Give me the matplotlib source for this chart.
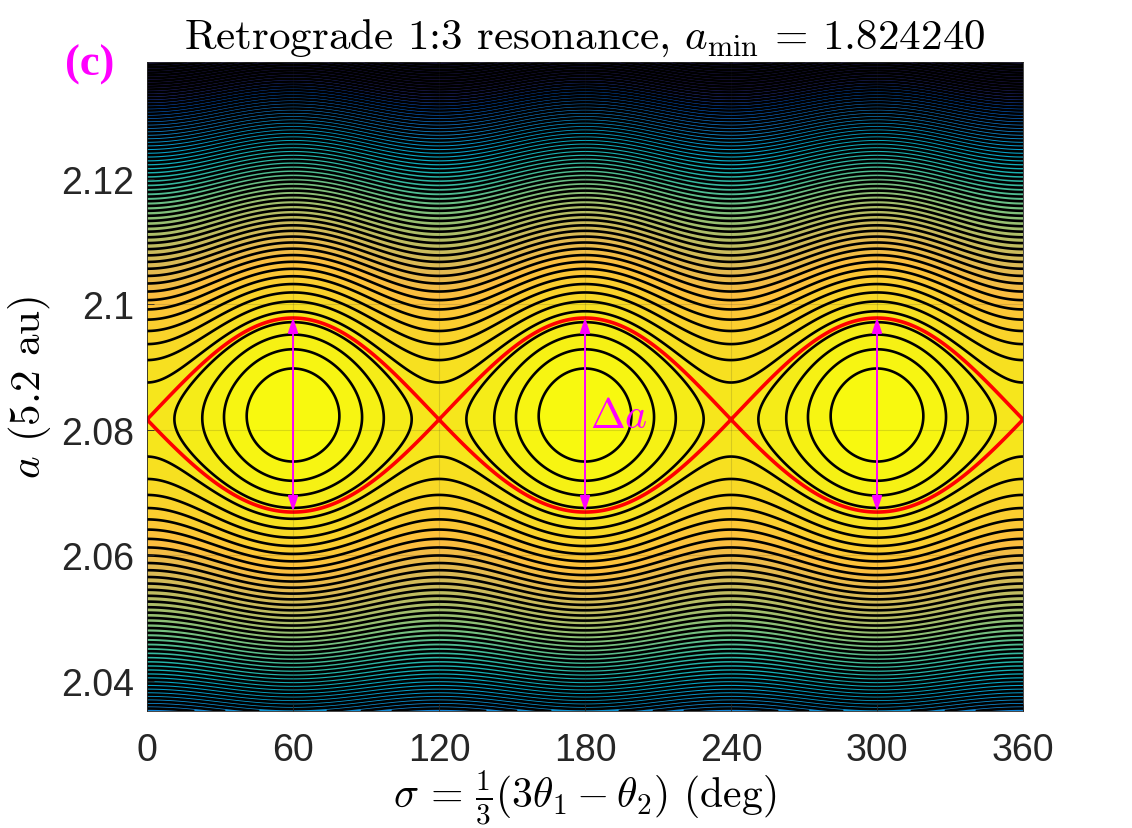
import numpy as np
import matplotlib
matplotlib.use("Agg")
import matplotlib.pyplot as plt
from matplotlib.colors import LinearSegmentedColormap

# values (a in units of 5.2 au)
a_res = 2.0820        # level of the island centres
half_width = 0.0155   # separatrix half width at island centre
asym = 6.0            # small up/down shift between islands and X points
stiff = 25.0          # contours crowd faster far from the resonance
level_step = 0.458    # contour spacing, in units of the resonance amplitude
dark_dist = 0.054     # distance from a_res where the colours reach dark blue

sig_lim = [0, 360]
a_lim = [2.0352, 2.1386]
x_ticks = [0, 60, 120, 180, 240, 300, 360]
y_ticks = [2.04, 2.06, 2.08, 2.1, 2.12]
y_ticklabels = ["2.04", "2.06", "2.08", "2.1", "2.12"]

arrow_sig = [60, 180, 300]
arrow_top = [2.0979, 2.0979, 2.0979]
arrow_bot = [2.0670, 2.0670, 2.0670]
label_sig = 182
label_a = 2.0822

# parula (every 4th colour of the 64 colour table)
parula_rgb = [
    (0.2081, 0.1663, 0.5292), (0.1959, 0.2645, 0.7279), (0.0117, 0.3875, 0.8820),
    (0.0629, 0.4737, 0.8554), (0.0749, 0.5375, 0.8263), (0.0265, 0.6137, 0.8135),
    (0.0267, 0.6642, 0.7607), (0.1133, 0.7015, 0.6859), (0.2586, 0.7317, 0.5954),
    (0.4420, 0.7481, 0.5033), (0.6099, 0.7473, 0.4337), (0.7525, 0.7384, 0.3768),
    (0.8825, 0.7274, 0.3217), (0.9939, 0.7455, 0.2404), (0.9788, 0.8271, 0.1633),
    (0.9598, 0.9218, 0.0948), (0.9763, 0.9831, 0.0538)]
parula = LinearSegmentedColormap.from_list("parula", parula_rgb, N=256)

plt.rcParams["font.family"] = ["Liberation Sans", "DejaVu Sans"]
plt.rcParams["mathtext.fontset"] = "cm"

S, A = np.meshgrid(np.linspace(sig_lim[0], sig_lim[1], 721),
                   np.linspace(a_lim[0], a_lim[1], 900))
B = half_width ** 2 / 2
u = A - a_res
H = -u ** 2 * (1 + stiff * u ** 2) - B * np.cos(np.radians(3 * S)) * (1 + asym * u)
H_max = H.max()
H_min = H.min()
H_sep = -B + (B * asym) ** 2 / 4
step = level_step * B
levels = H_max - step * np.arange(1, 600)
levels = levels[levels > H_min][::-1]
c_min = -dark_dist ** 2 * (1 + stiff * dark_dist ** 2)

fig = plt.figure(figsize=(11.32, 8.29), dpi=100)
ax = fig.add_axes([0.1299, 0.1411, 0.7738, 0.7829])

ax.contourf(S, A, H, levels=np.r_[H_min, levels, H_max], cmap=parula,
            vmin=c_min, vmax=H_max)
ax.contour(S, A, H, levels=levels, colors="k", linewidths=1.9,
           linestyles="solid")
ax.contour(S, A, H, levels=[H_sep], colors="r", linewidths=2.6,
           linestyles="solid")

for s, t, b in zip(arrow_sig, arrow_top, arrow_bot):
    ax.annotate("", xy=(s, t), xytext=(s, b),
                arrowprops=dict(arrowstyle="<|-|>,head_length=0.9,head_width=0.3",
                                color=(1, 0, 1), lw=1.4, shrinkA=0, shrinkB=0))
ax.text(label_sig, label_a, r"$\Delta a$", color=(1, 0, 1), fontsize=30,
        ha="left", va="center")

ax.set_xlim(sig_lim)
ax.set_ylim(a_lim)
ax.set_xticks(x_ticks)
ax.set_yticks(y_ticks)
ax.set_yticklabels(y_ticklabels)
ax.tick_params(direction="in", labelsize=27, labelcolor=(0.15, 0.15, 0.15),
               color=(0.15, 0.15, 0.15), length=5, width=0.6)
ax.tick_params(axis="x", pad=15)
ax.tick_params(axis="y", pad=9)
ax.grid(True, color=(0.15, 0.15, 0.15), alpha=0.15, lw=0.8)
ax.set_axisbelow(False)
for sp in ax.spines.values():
    sp.set_linewidth(0.6)
    sp.set_color((0.15, 0.15, 0.15))

ax.set_title(r"Retrograde 1:3 resonance, $a_{\mathrm{min}}$ = 1.824240",
             fontsize=31, family="cmr10", pad=10)
ax.set_xlabel(r"$\sigma\,=\,\frac{1}{3}(3\theta_1 - \theta_2)$ (deg)",
              fontsize=30, family="cmr10", labelpad=0)
ax.set_ylabel(r"$a$ (5.2 au)", fontsize=31, family="cmr10", labelpad=6)

fig.text(90 / 1132, 1 - 65 / 829, "(c)", color=(1, 0, 1), fontsize=32,
         fontweight="bold", family="Liberation Serif", ha="center", va="center")

fig.savefig("out.png", dpi=100)
